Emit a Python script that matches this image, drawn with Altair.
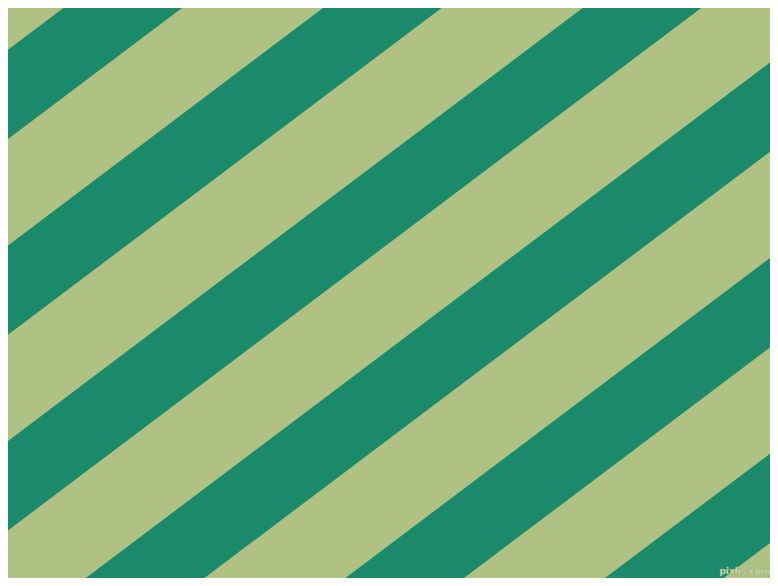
import altair as alt
import pandas as pd

# Upper-edge x positions (at top edge, y=0) of each dark stripe, in reference pixels
stripe_starts = [-185.6, 74.0, 333.6, 593.2, 852.8, 1112.4, 1372.0, 1631.6]
stripe_width_h = [118.6] * len(stripe_starts)   # horizontal width of each dark stripe
slope = 0.7536                                  # rise per run (tan 37 deg)

light = "#B0C283"
dark = "#1A8A6A"

rows = []
for s, w in zip(stripe_starts, stripe_width_h):
    c = s + w / 2
    y_a, y_b = -300.0, 900.0
    rows.append({"x": c - y_a / slope, "y": y_a, "x2": c - y_b / slope, "y2": y_b})
df = pd.DataFrame(rows)

perp = stripe_width_h[0] * 0.6018

xs = alt.Scale(domain=[8, 770], nice=False, zero=False)
ys = alt.Scale(domain=[8, 578], nice=False, zero=False, reverse=True)

stripes = alt.Chart(df).mark_rule(strokeWidth=perp, color=dark, clip=True, strokeCap="butt").encode(
    x=alt.X("x:Q", scale=xs, axis=None),
    y=alt.Y("y:Q", scale=ys, axis=None),
    x2="x2:Q",
    y2="y2:Q",
)

wm = pd.DataFrame({"x": [745], "y": [571], "t": ["pixlis.com"]})
watermark = alt.Chart(wm).mark_text(
    fontSize=9, fontWeight="bold", font="DejaVu Sans", color="#dde6c6",
    stroke="#8fa46a", strokeWidth=0.4, baseline="middle", align="center", clip=True
).encode(
    x=alt.X("x:Q", scale=xs, axis=None),
    y=alt.Y("y:Q", scale=ys, axis=None),
    text="t:N",
)

chart = alt.layer(stripes, watermark).properties(
    width=762, height=570, padding=0, background=light,
    autosize=alt.AutoSizeParams(type="none")
).configure_view(stroke=None, fill=light)

chart.save("out.html", embed_options={"renderer": "svg", "actions": False})
